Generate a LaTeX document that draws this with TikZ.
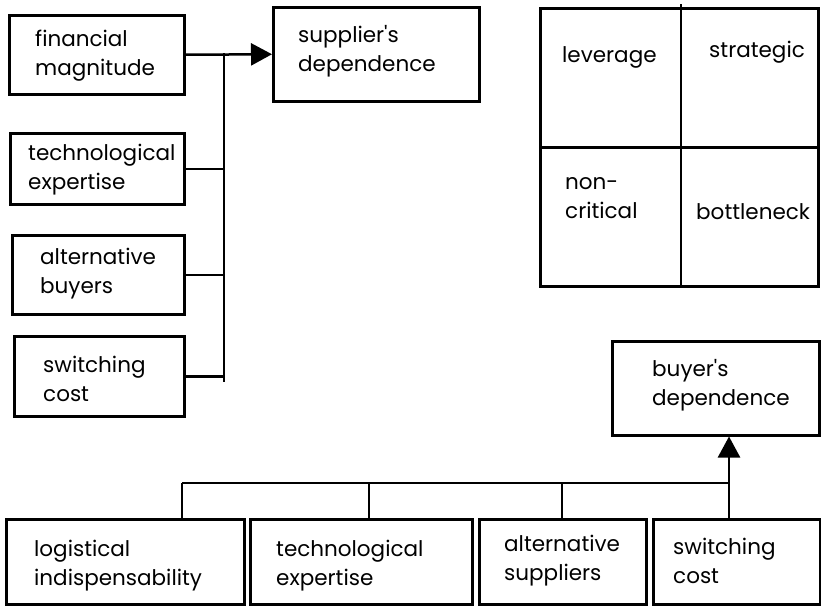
\documentclass[tikz,border=0pt]{standalone}
\usepackage{fontspec}
\setmainfont{Poppins}
\usetikzlibrary{arrows.meta}
\begin{document}
\begin{tikzpicture}[x=1pt,y=-1pt,
  box/.style={draw,line width=2.5pt,inner sep=0pt,anchor=north west},
  lbl/.style={anchor=base west,align=left,inner sep=0pt,
    font=\fontsize{21.5}{29}\selectfont},
  wire/.style={line width=2.5pt},
  tip/.style={-{Triangle[length=21pt,width=22pt]}}]
\useasboundingbox (0,0) rectangle (821,605);

% supplier side: four factors feeding one bus
% (two-line labels are placed by the baseline of their last line)
\node[box,minimum width=175pt,minimum height=79pt] (fin) at (8,14) {};
\node[box,minimum width=206pt,minimum height=94pt] (sup) at (272,6) {};
\node[box,minimum width=174pt,minimum height=71pt] (tecA) at (9,132) {};
\node[box,minimum width=172pt,minimum height=79pt] (altA) at (11,234) {};
\node[box,minimum width=170pt,minimum height=80pt] (swA) at (13,335) {};

\node[lbl] (finT) at (35,75) {financial\\magnitude};
\node[lbl] (supT) at (298,71) {supplier\textquotesingle s\\dependence};
\node[lbl] (tecAT) at (28,189) {technological\\expertise};
\node[lbl] (altAT) at (40,293) {alternative\\buyers};
\node[lbl] (swAT) at (43,401) {switching\\cost};

\coordinate (busA) at (224,53);
\coordinate (busB) at (224,382);
\draw[wire] (busA) -- (busB);
\draw[wire,tip] (fin.east) -- (sup.west);
\draw[wire] (tecA.east) -- (tecA.east -| busA);
\draw[wire] (altA.east) -- (altA.east -| busA);
\draw[wire] (swA.east) -- (swA.east -| busA);

% portfolio matrix
\node[box,minimum width=278pt,minimum height=278pt] (mat) at (539,7) {};
\coordinate (matTop) at (681,4);
\draw[wire] (matTop) -- (matTop |- mat.south);
\draw[wire] (mat.west) -- (mat.east);
\node[lbl] (lev) at (562,62) {leverage};
\node[lbl] (str) at (709,57) {strategic};
\node[lbl] (non) at (565,218) {non-\\critical};
\node[lbl] (bot) at (696,219) {bottleneck};

% buyer side: four factors joined by a bus below
\node[box,minimum width=207pt,minimum height=94pt] (buy) at (611,340) {};
\node[box,minimum width=238pt,minimum height=85pt] (log) at (5,518) {};
\node[box,minimum width=222pt,minimum height=85pt] (tecB) at (249,518) {};
\node[box,minimum width=167pt,minimum height=85pt] (altB) at (478,518) {};
\node[box,minimum width=167pt,minimum height=85pt] (swB) at (652,518) {};

\node[lbl] (buyT) at (652,405) {buyer\textquotesingle s\\dependence};
\node[lbl] (logT) at (34,585) {logistical\\indispensability};
\node[lbl] (tecBT) at (276,585) {technological\\expertise};
\node[lbl] (altBT) at (504,580) {alternative\\suppliers};
\node[lbl] (swBT) at (673,583) {switching\\cost};

\coordinate (b1) at (182,483);
\coordinate (b2) at (369,483);
\coordinate (b3) at (562,483);
\coordinate (b4) at (729,483);
\draw[wire] (b1) -- (b4);
\draw[wire] (b1) -- (b1 |- log.north);
\draw[wire] (b2) -- (b2 |- tecB.north);
\draw[wire] (b3) -- (b3 |- altB.north);
\draw[wire,tip] (b4 |- swB.north) -- (b4 |- buy.south);
\end{tikzpicture}
\end{document}
